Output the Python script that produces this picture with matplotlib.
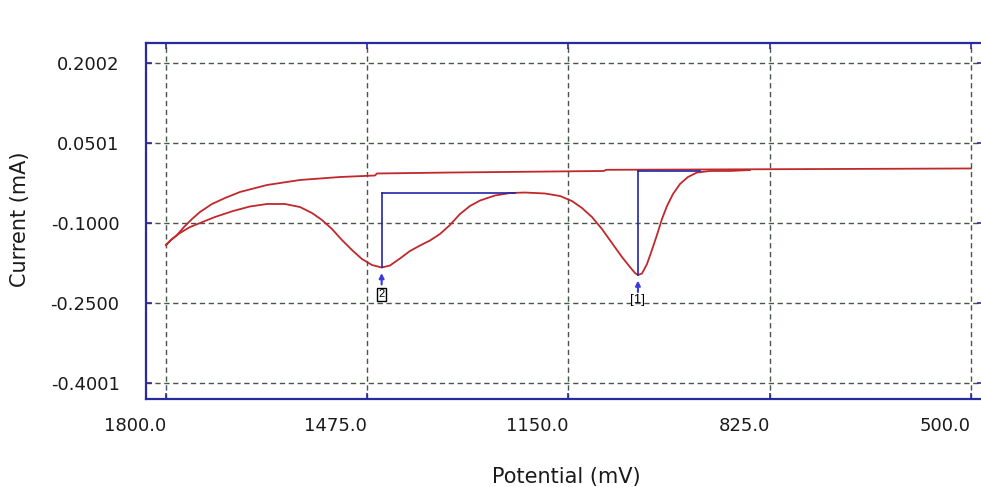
import matplotlib
matplotlib.use("Agg")
import matplotlib.pyplot as plt

# Cathodic sweep (lower trace), potential in mV and current in mA
fwd_mv = [1800.0, 1790.3, 1777.4, 1761.2, 1745.1, 1720.9, 1691.8, 1664.4, 1636.9, 1607.8,
          1583.6, 1564.2, 1548.1, 1531.9, 1515.8, 1499.6, 1483.5, 1467.3, 1451.7, 1438.3,
          1422.1, 1406.0, 1389.8, 1373.7, 1357.5, 1341.4, 1325.2, 1309.1, 1292.9, 1268.7,
          1244.5, 1220.3, 1188.0, 1163.7, 1144.4, 1128.2, 1112.1, 1095.9, 1079.8, 1063.6,
          1050.7, 1042.6, 1037.8, 1031.3, 1023.2, 1015.2, 1007.1, 999.0, 990.9, 981.2,
          969.9, 957.0, 942.5, 921.5, 889.2, 856.9]
fwd_ma = [-0.1411, -0.1299, -0.1186, -0.1074, -0.0999, -0.0886, -0.0774, -0.0689, -0.0642, -0.0642,
          -0.0699, -0.0811, -0.0942, -0.1111, -0.1318, -0.1505, -0.1674, -0.1786, -0.1833, -0.1796,
          -0.1664, -0.1524, -0.1421, -0.1327, -0.1205, -0.1036, -0.0830, -0.0680, -0.0577, -0.0483,
          -0.0436, -0.0427, -0.0445, -0.0492, -0.0586, -0.0717, -0.0886, -0.1111, -0.1374, -0.1636,
          -0.1824, -0.1936, -0.1974, -0.1946, -0.1768, -0.1505, -0.1224, -0.0924, -0.0680, -0.0455,
          -0.0267, -0.0136, -0.0052, -0.0023, -0.0023, -0.0005]

# Return sweep (upper trace)
ret_mv = [1800.0, 1791.9, 1782.2, 1770.9, 1758.0, 1745.1, 1725.7, 1704.7, 1680.5, 1636.9,
          1583.6, 1519.0, 1462.5, 1459.3, 1341.4, 1179.9, 1092.7, 1089.4, 937.6, 500.0]
ret_ma = [-0.1411, -0.1318, -0.1224, -0.1074, -0.0924, -0.0792, -0.0642, -0.0530, -0.0417, -0.0286,
          -0.0192, -0.0136, -0.0108, -0.0070, -0.0052, -0.0033, -0.0023, -0.0001, 0.0005, 0.0024]

# Detected peaks with their baselines
peak_ids = ["1", "2"]
peak_mv = [1037.8, 1451.7]
peak_ma = [-0.1974, -0.1833]
base_ma = [-0.0018, -0.0436]
base_end_mv = [937.6, 1236.4]

x_ticks = [1800.0, 1475.0, 1150.0, 825.0, 500.0]
y_ticks = [0.2002, 0.0501, -0.1000, -0.2500, -0.4001]

frame_col = "#2a2aa0"
curve_col = "#c0282c"
base_col = "#2424a8"

fig = plt.figure(figsize=(9.81, 4.87), dpi=100)
ax = fig.add_axes([0.1488, 0.1807, 0.8532, 0.7310])

ax.plot(fwd_mv, fwd_ma, color=curve_col, lw=1.3, zorder=3)
ax.plot(ret_mv, ret_ma, color=curve_col, lw=1.3, zorder=3)

for pid, px, py, by, bx in zip(peak_ids, peak_mv, peak_ma, base_ma, base_end_mv):
    ax.plot([px, px], [py, by], color=base_col, lw=1.2, zorder=4)
    ax.plot([px, bx], [by, by], color=base_col, lw=1.2, zorder=4)
    # small marker arrow pointing up at the peak
    ax.annotate("", xy=(px, py), xytext=(0, -17), textcoords="offset pixels", zorder=5,
                arrowprops=dict(arrowstyle="-|>", color="#3a3ae0", lw=1.5,
                                mutation_scale=7, shrinkA=0, shrinkB=4))
    if pid == "2":
        ax.annotate(pid, (px, py), xytext=(0, -27), textcoords="offset pixels",
                    ha="center", va="center", fontsize=8, family="Liberation Sans",
                    bbox=dict(boxstyle="square,pad=0.15", fc="white", ec="black", lw=1.0),
                    zorder=5)
    else:
        ax.annotate("[" + pid + "]", (px, py), xytext=(0, -25), textcoords="offset pixels",
                    ha="center", va="center", fontsize=9.5, family="Liberation Sans",
                    zorder=5)

ax.set_xlim(1832.3, 480.6)
ax.set_ylim(-0.4299, 0.2377)

ax.set_xticks(x_ticks)
ax.set_xticklabels([f"{v:.1f}" for v in x_ticks], ha="right")
ax.set_yticks(y_ticks)
ax.set_yticklabels([f"{v:.4f}" for v in y_ticks])

ax.grid(True, color="#4b564b", lw=1.0, linestyle=(0, (3.8, 2.6)))
ax.tick_params(direction="in", length=4.5, width=1.2, color=frame_col,
               top=True, right=True, labelsize=13, labelcolor="#1a1a1a")
ax.tick_params(axis="x", pad=13)
ax.tick_params(axis="y", pad=19)

for side in ax.spines.values():
    side.set_color(frame_col)
    side.set_linewidth(1.6)

fig.text(0.577, 0.0082, "Potential (mV)", ha="center", va="baseline",
         fontsize=15, color="#1a1a1a")
fig.text(0.0204, 0.5503, "Current (mA)", ha="center", va="center",
         rotation=90, fontsize=15, color="#1a1a1a")

fig.savefig("out.png", dpi=100)
